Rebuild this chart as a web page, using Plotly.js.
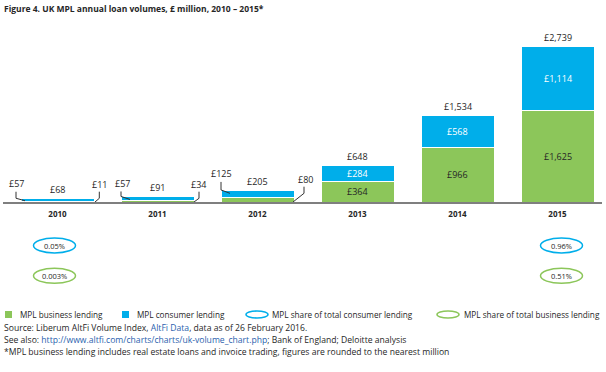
<!DOCTYPE html>
<html>
<head>
<meta charset="utf-8">
<script src="https://cdn.plot.ly/plotly-3.0.1.min.js"></script>
<style>html,body{margin:0;padding:0;background:#fff;}#chart{width:606px;height:372px;}</style>
</head>
<body>
<div id="chart"></div>
<script>
// ---- data ----
const years = ['2010', '2011', '2012', '2013', '2014', '2015'];
const business = [11, 34, 80, 364, 966, 1625];
const consumer = [57, 57, 125, 284, 568, 1114];
const totals = [68, 91, 205, 648, 1534, 2739];
const shareYears = ['2010', '2015'];
const consumerShare = ['0.05%', '0.96%'];
const businessShare = ['0.003%', '0.51%'];

const titleText = 'Figure 4. UK MPL annual loan volumes, £ million, 2010 – 2015*';
const legendLabels = ['MPL business lending', 'MPL consumer lending', 'MPL share of total consumer lending', 'MPL share of total business lending'];

// ---- style ----
const GREEN = '#8cc65a';
const BLUE = '#00aeea';
const TEXT = '#262626';
const LINK = '#2b5fae';
const FONT = 'Open Sans, Noto Sans, sans-serif';
const M = {l: 3, r: 4, t: 30, b: 170};
const W = 606, H = 372;
const pw = W - M.l - M.r, ph = H - M.t - M.b;
const px2x = p => (p - M.l) / pw;
const px2y = p => (H - M.b - p) / ph;
const fmt = v => '£' + v.toLocaleString('en-GB');
const xs = years.map((_, i) => i);
const half = 0.365;

const traces = [
  {type: 'bar', x: xs, y: business, width: 0.73, marker: {color: GREEN, line: {color: '#fff', width: 1}}, name: legendLabels[0], hoverinfo: 'skip'},
  {type: 'bar', x: xs, y: consumer, width: 0.73, marker: {color: BLUE, line: {color: '#fff', width: 1}}, name: legendLabels[1], hoverinfo: 'skip'}
];

const annotations = [];
const shapes = [];

// totals above bars
xs.forEach(i => {
  annotations.push({x: i, y: totals[i], xref: 'x', yref: 'y', text: fmt(totals[i]), showarrow: false,
    yanchor: 'middle', yshift: 9, font: {family: FONT, size: 9, color: TEXT}});
});
// inside labels for large bars
const insideFrom = 3;
xs.filter(i => i >= insideFrom).forEach(i => {
  annotations.push({x: i, y: business[i] / 2, xref: 'x', yref: 'y', text: fmt(business[i]), showarrow: false,
    yanchor: 'middle', font: {family: FONT, size: 9, color: TEXT}});
  annotations.push({x: i, y: business[i] + consumer[i] / 2, xref: 'x', yref: 'y', text: fmt(consumer[i]), showarrow: false,
    yanchor: 'middle', font: {family: FONT, size: 9, color: '#ffffff'}});
});
// leader-line labels for small bars (pixel offsets, screen-down)
const leftLeaders = [
  {pts: [[4, 1], [-5, -1.5], [-5, -8]], lab: [-5, -16]},
  {pts: [[9, 1], [0, -2], [0, -7]], lab: [1, -14.5]},
  {pts: [[9, -0.6], [0, -4], [0, -12]], lab: [0, -20]}
];
const rightLeaders = [
  {pts: [[1, 0], [5.3, -3.7], [5.3, -10.3]], lab: [5, -18]},
  {pts: [[0, 0], [5, -3.7], [5, -10.3]], lab: [4, -18]},
  {pts: [[-1, 0], [10, -8.7], [10, -15.3]], lab: [11, -23]}
];
function leader(ax, ay, cfg, txt) {
  const path = cfg.pts.map((p, k) => (k ? 'L' : 'M') + p[0] + ',' + (-p[1])).join(' ');
  shapes.push({type: 'path', xref: 'x', yref: 'y', xsizemode: 'pixel', ysizemode: 'pixel', xanchor: ax, yanchor: ay,
    path: path, line: {color: '#333', width: 1}});
  annotations.push({x: ax, y: ay, xref: 'x', yref: 'y', text: txt, showarrow: false, xanchor: 'center', yanchor: 'middle',
    xshift: cfg.lab[0], yshift: -cfg.lab[1], font: {family: FONT, size: 9, color: TEXT}});
}
leftLeaders.forEach((cfg, i) => leader(i - half, business[i] + consumer[i] / 2, cfg, fmt(consumer[i])));
rightLeaders.forEach((cfg, i) => leader(i + half, 0, cfg, fmt(business[i])));

// share ellipses
const ellOffset = {'2010': -3, '2015': 4};
function ellipse(cx, offs, pyc, color, txt) {
  shapes.push({type: 'circle', xref: 'x', yref: 'paper', xsizemode: 'pixel', ysizemode: 'pixel', xanchor: cx, yanchor: px2y(pyc),
    x0: offs - 21, x1: offs + 21, y0: -7.5, y1: 7.5, line: {color: color, width: 1.5}});
  annotations.push({x: cx, y: px2y(pyc), xref: 'x', yref: 'paper', xshift: offs, text: txt, showarrow: false,
    yanchor: 'middle', font: {family: FONT, size: 7.5, color: TEXT}});
}
shareYears.forEach((yr, k) => {
  const i = years.indexOf(yr);
  ellipse(i, ellOffset[yr], 245.5, BLUE, consumerShare[k]);
  ellipse(i, ellOffset[yr], 275.8, GREEN, businessShare[k]);
});

// manual legend
const LY = 314.5;
function legText(x, txt) {
  annotations.push({x: px2x(x), y: px2y(LY), xref: 'paper', yref: 'paper', text: txt, showarrow: false, xanchor: 'left', yanchor: 'middle',
    font: {family: FONT, size: 8.2, color: TEXT}});
}
shapes.push({type: 'rect', xref: 'paper', yref: 'paper', x0: px2x(5), x1: px2x(12), y0: px2y(318), y1: px2y(311), fillcolor: GREEN, line: {width: 0}});
legText(18, legendLabels[0]);
shapes.push({type: 'rect', xref: 'paper', yref: 'paper', x0: px2x(122), x1: px2x(129), y0: px2y(318), y1: px2y(311), fillcolor: BLUE, line: {width: 0}});
legText(135, legendLabels[1]);
shapes.push({type: 'circle', xref: 'paper', yref: 'paper', x0: px2x(246), x1: px2x(268), y0: px2y(318), y1: px2y(311), line: {color: BLUE, width: 1.5}});
legText(270, legendLabels[2]);
shapes.push({type: 'circle', xref: 'paper', yref: 'paper', x0: px2x(437), x1: px2x(459), y0: px2y(318), y1: px2y(311), line: {color: GREEN, width: 1.5}});
legText(462, legendLabels[3]);

// source notes
const notes = [
  'Source: Liberum AltFi Volume Index, <span style="color:' + LINK + '">AltFi Data</span>, data as of 26 February 2016.',
  'See also: <span style="color:' + LINK + '">http://www.altfi.com/charts/charts/uk-volume_chart.php</span>; Bank of England; Deloitte analysis',
  '*MPL business lending includes real estate loans and invoice trading, figures are rounded to the nearest million'
];
const noteY = [327.5, 339.5, 351.5];
notes.forEach((t, k) => {
  annotations.push({x: px2x(2), y: px2y(noteY[k]), xref: 'paper', yref: 'paper', text: t, showarrow: false, xanchor: 'left', yanchor: 'middle',
    font: {family: FONT, size: 8.6, color: TEXT}});
});

const layout = {
  width: W, height: H,
  margin: M,
  paper_bgcolor: '#fff', plot_bgcolor: '#fff',
  barmode: 'stack', showlegend: false,
  title: {text: '<b>' + titleText + '</b>', x: 4 / W, xanchor: 'left', xref: 'container', y: 1 - 9 / H, yref: 'container', yanchor: 'middle',
    font: {family: FONT, size: 8.5, color: TEXT}},
  xaxis: {range: [-0.545, 5.445], tickvals: xs, ticktext: years, showline: true, linecolor: '#7f7f7f', linewidth: 1.5,
    showgrid: false, zeroline: false, ticks: '', ticklabelstandoff: 4, tickfont: {family: FONT, size: 8, color: TEXT, weight: 700}, fixedrange: true},
  yaxis: {range: [0, 3039], visible: false, showgrid: false, zeroline: false, fixedrange: true},
  annotations: annotations,
  shapes: shapes
};
Plotly.newPlot('chart', traces, layout, {displayModeBar: false, staticPlot: true});
</script>
</body>
</html>
